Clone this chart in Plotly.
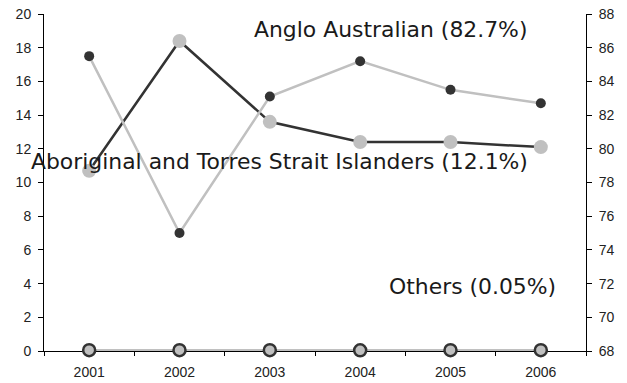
import plotly.graph_objects as go

# Population share by background, 2001-2006
years = ["2001", "2002", "2003", "2004", "2005", "2006"]
anglo_australian = [85.5, 75.0, 83.1, 85.2, 83.5, 82.7]      # right axis
aboriginal_tsi = [10.7, 18.4, 13.6, 12.4, 12.4, 12.1]        # left axis
others = [0.05, 0.05, 0.05, 0.04, 0.05, 0.05]                # left axis

left_ticks = list(range(0, 21, 2))
right_ticks = list(range(68, 89, 2))

DARK = "#333333"
LIGHT = "#c0c0c0"
TICK_FONT = dict(family="Arial, Liberation Sans, sans-serif", size=14, color="#222222")
LABEL_FONT = dict(family="Verdana, DejaVu Sans, sans-serif", size=21.9, color="#1a1a1a")

fig = go.Figure()

fig.add_trace(go.Scatter(
    x=years, y=others, mode="lines+markers", cliponaxis=False,
    line=dict(color=LIGHT, width=2.5),
    marker=dict(size=12, color=LIGHT, line=dict(color=DARK, width=2.5)),
    showlegend=False,
))
fig.add_trace(go.Scatter(
    x=years, y=aboriginal_tsi, mode="lines+markers", cliponaxis=False,
    line=dict(color=DARK, width=2.5),
    marker=dict(size=14, color=LIGHT),
    showlegend=False,
))
fig.add_trace(go.Scatter(
    x=years, y=anglo_australian, yaxis="y2", mode="lines+markers", cliponaxis=False,
    line=dict(color=LIGHT, width=2.5),
    marker=dict(size=10, color=DARK),
    showlegend=False,
))

annotations = [
    dict(text="Anglo Australian (82.7%)", x=4.86, y=19.08),
    dict(text="Aboriginal and Torres Strait Islanders (12.1%)", x=4.87, y=11.22),
    dict(text="Others (0.05%)", x=5.18, y=3.85),
]
for a in annotations:
    fig.add_annotation(
        text=a["text"], x=a["x"], y=a["y"], xref="x", yref="y",
        xanchor="right", yanchor="middle", showarrow=False,
        font=LABEL_FONT, borderpad=0,
    )

fig.update_layout(
    width=627, height=383,
    margin=dict(l=44, r=41, t=14, b=32, autoexpand=False),
    paper_bgcolor="white", plot_bgcolor="white",
    xaxis=dict(
        type="category", range=[-0.5, 5.5],
        showline=True, linecolor="black", linewidth=1,
        ticks="outside", tickson="boundaries", ticklen=4, tickcolor="black",
        showgrid=False, zeroline=False, tickfont=TICK_FONT,
        ticklabelstandoff=8, automargin=False, layer="below traces",
    ),
    yaxis=dict(
        range=[0, 20], tickvals=left_ticks,
        showline=True, linecolor="black", linewidth=1,
        ticks="outside", ticklen=5, tickcolor="black",
        showgrid=False, zeroline=False, tickfont=TICK_FONT,
        ticklabelstandoff=4, automargin=False, layer="below traces",
    ),
    yaxis2=dict(
        range=[68, 88], tickvals=right_ticks, overlaying="y", side="right",
        showline=True, linecolor="black", linewidth=1,
        ticks="outside", ticklen=5, tickcolor="black",
        showgrid=False, zeroline=False, tickfont=TICK_FONT,
        ticklabelstandoff=4, automargin=False, layer="below traces",
    ),
    # inner half of the right-axis tick marks
    yaxis3=dict(
        range=[68, 88], tickvals=right_ticks, overlaying="y", side="right",
        showline=False, ticks="inside", ticklen=4, tickcolor="black",
        showticklabels=False, showgrid=False, zeroline=False,
        automargin=False, layer="below traces",
    ),
)

fig.write_html("out.html")
